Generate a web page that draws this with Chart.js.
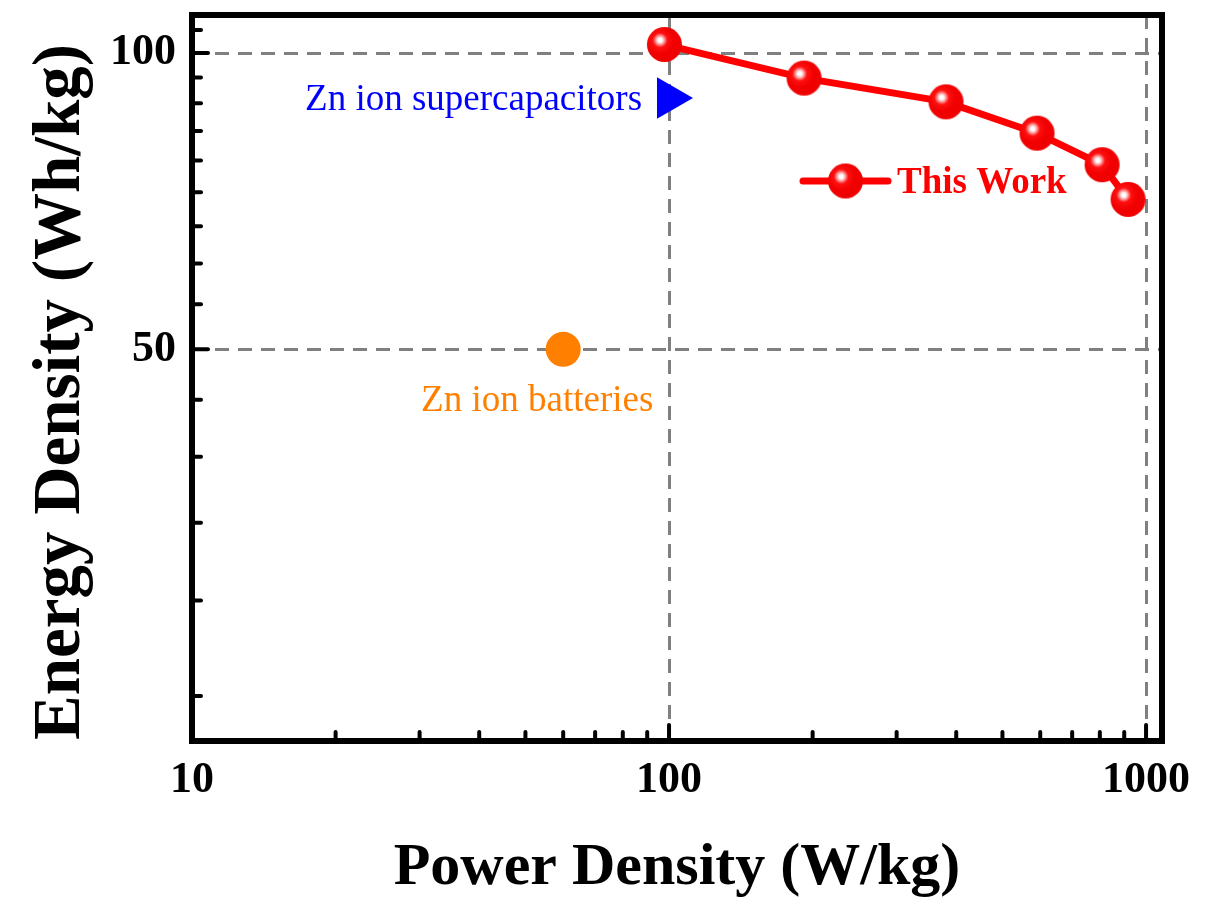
<!DOCTYPE html>
<html>
<head>
<meta charset="utf-8">
<script src="https://cdn.jsdelivr.net/npm/chart.js@4.4.1/dist/chart.umd.min.js"></script>
<style>
  html, body { margin: 0; padding: 0; background: #ffffff; }
  canvas { display: block; }
</style>
</head>
<body>
<canvas id="chart" width="1207" height="908"></canvas>
<script>
// Ragone data: power density (W/kg) vs energy density (Wh/kg)
const powerThisWork  = [97.8, 191.9, 380.8, 590.8, 808.8, 917];
const energyThisWork = [102.0, 94.3, 89.2, 82.9, 77.0, 71.0];

const powerSupercap  = [100];
const energySupercap = [90];

const powerBattery   = [60];
const energyBattery  = [50];

const seriesNames = ['This Work', 'Zn ion supercapacitors', 'Zn ion batteries'];
const xTitle = 'Power Density (W/kg)';
const yTitle = 'Energy Density (Wh/kg)';

// Axis ticks
const xTickValues  = [10, 20, 30, 40, 50, 60, 70, 80, 90, 100, 200, 300, 400, 500, 600, 700, 800, 900, 1000];
const xLabelValues = [10, 100, 1000];
const xTickLabels  = ['10', '100', '1000'];
const yTickValues  = [22.22, 27.78, 33.33, 38.89, 44.44, 50, 55.56, 61.11, 66.67, 72.22, 77.78, 83.33, 88.89, 94.44, 100, 105.56];
const yLabelValues = [50, 100];
const yTickLabels  = ['50', '100'];
const xGridValues  = [100, 1000];
const yGridValues  = [50, 100];

const FONT = '"Liberation Serif", "Times New Roman", serif';
const RED = '#ff0000', BLUE = '#0000ff', ORANGE = '#ff8000';

// Glossy red sphere used as the marker for this work
function makeBall(r) {
  const s = Math.ceil(r * 2 + 2);
  const c = document.createElement('canvas');
  c.width = s; c.height = s;
  const g = c.getContext('2d');
  const cx = s / 2, cy = s / 2;
  const hx = cx - r * 0.25, hy = cy - r * 0.25;
  const grad = g.createRadialGradient(hx, hy, 0, hx, hy, r * 0.8);
  grad.addColorStop(0.00, '#ffffff');
  grad.addColorStop(0.14, '#ffffff');
  grad.addColorStop(0.30, '#ffa0a0');
  grad.addColorStop(0.52, '#ff1010');
  grad.addColorStop(1.00, '#f00000');
  g.fillStyle = grad;
  g.beginPath();
  g.arc(cx, cy, r, 0, Math.PI * 2);
  g.fill();
  return c;
}
const ball = makeBall(17.5);

const toPoints = (xs, ys) => xs.map((v, i) => ({ x: v, y: ys[i] }));

// Frame, inward tick marks, axis title, text labels and the legend entry
const decorations = {
  id: 'decorations',
  afterDatasetsDraw(chart) {
    const { ctx, chartArea: a, scales: { x, y } } = chart;
    ctx.save();
    ctx.strokeStyle = '#000';
    ctx.lineWidth = 4;
    ctx.lineCap = 'round';
    x.ticks.forEach(t => {
      const px = x.getPixelForValue(t.value);
      const len = xLabelValues.includes(t.value) ? 16 : 9;
      ctx.beginPath();
      ctx.moveTo(px, a.bottom);
      ctx.lineTo(px, a.bottom - len);
      ctx.stroke();
    });
    y.ticks.forEach(t => {
      const py = y.getPixelForValue(t.value);
      const len = yLabelValues.includes(t.value) ? 16 : 9;
      ctx.beginPath();
      ctx.moveTo(a.left, py);
      ctx.lineTo(a.left + len, py);
      ctx.stroke();
    });
    ctx.lineCap = 'butt';
    ctx.lineJoin = 'miter';
    ctx.lineWidth = 6;
    ctx.strokeRect(a.left, a.top, a.right - a.left, a.bottom - a.top);
    ctx.restore();
  },
  afterDraw(chart) {
    const { ctx, chartArea: a, scales: { x, y } } = chart;
    ctx.save();

    // vertical axis title
    ctx.save();
    ctx.translate(62, (a.top + a.bottom) / 2 + 14);
    ctx.rotate(-Math.PI / 2);
    ctx.font = 'bold 67px ' + FONT;
    ctx.fillStyle = '#000';
    ctx.textAlign = 'center';
    ctx.textBaseline = 'middle';
    ctx.fillText(yTitle, 0, 0);
    ctx.restore();

    ctx.textBaseline = 'alphabetic';

    // series captions next to their markers
    ctx.font = '37px ' + FONT;
    ctx.fillStyle = BLUE;
    ctx.textAlign = 'right';
    ctx.fillText(seriesNames[1], x.getPixelForValue(powerSupercap[0]) - 27, y.getPixelForValue(energySupercap[0]) + 12);

    ctx.fillStyle = ORANGE;
    ctx.textAlign = 'center';
    ctx.fillText(seriesNames[2], x.getPixelForValue(powerBattery[0]) - 26, y.getPixelForValue(energyBattery[0]) + 62);

    // legend entry for this work
    const ly = a.top + 166;
    const lx0 = a.right - 359, lx1 = a.right - 274;
    ctx.strokeStyle = RED;
    ctx.lineWidth = 7;
    ctx.lineCap = 'round';
    ctx.beginPath();
    ctx.moveTo(lx0, ly);
    ctx.lineTo(lx1, ly);
    ctx.stroke();
    const bx = (lx0 + lx1) / 2;
    ctx.drawImage(ball, bx - ball.width / 2, ly - ball.height / 2);
    ctx.font = 'bold 37px ' + FONT;
    ctx.fillStyle = RED;
    ctx.textAlign = 'left';
    ctx.fillText(seriesNames[0], a.right - 265, ly + 12);
    ctx.restore();
  }
};

new Chart(document.getElementById('chart'), {
  type: 'scatter',
  data: {
    datasets: [
      {
        label: seriesNames[0],
        data: toPoints(powerThisWork, energyThisWork),
        showLine: true,
        borderColor: RED,
        borderWidth: 7,
        pointStyle: ball,
        pointRadius: 17,
        pointHoverRadius: 17,
        order: 1
      },
      {
        label: seriesNames[1],
        data: toPoints(powerSupercap, energySupercap),
        pointStyle: 'triangle',
        rotation: 90,
        pointRadius: 24,
        pointHoverRadius: 24,
        backgroundColor: BLUE,
        borderWidth: 0,
        order: 2
      },
      {
        label: seriesNames[2],
        data: toPoints(powerBattery, energyBattery),
        pointStyle: 'circle',
        pointRadius: 17.5,
        pointHoverRadius: 17.5,
        backgroundColor: ORANGE,
        borderWidth: 0,
        order: 3
      }
    ]
  },
  options: {
    responsive: false,
    animation: false,
    devicePixelRatio: 1,
    layout: { autoPadding: false, padding: { top: 15, right: 45, left: 0, bottom: 0 } },
    plugins: {
      legend: { display: false },
      tooltip: { enabled: false }
    },
    scales: {
      x: {
        type: 'logarithmic',
        bounds: 'data',
        min: 10,
        max: 1080,
        afterFit: s => { s.height = 167; s.paddingLeft = 0; s.paddingRight = 0; },
        afterBuildTicks: s => {
          s.ticks = xTickValues.map(v => ({ value: v, major: xLabelValues.includes(v) }));
        },
        ticks: {
          autoSkip: false,
          maxRotation: 0,
          padding: 13,
          color: '#000',
          font: { family: FONT, size: 44, weight: 'bold' },
          callback: v => {
            const i = xLabelValues.indexOf(v);
            return i >= 0 ? xTickLabels[i] : '';
          }
        },
        grid: {
          drawTicks: false,
          lineWidth: 3,
          color: c => (c.tick && xGridValues.includes(c.tick.value)) ? '#808080' : 'rgba(0,0,0,0)'
        },
        border: { display: false, dash: [14, 9] },
        title: {
          display: true,
          text: xTitle,
          color: '#000',
          font: { family: FONT, size: 60, weight: 'bold' },
          padding: { top: 0, bottom: 4 }
        }
      },
      y: {
        type: 'logarithmic',
        bounds: 'data',
        min: 20,
        max: 109.3,
        afterFit: s => { s.width = 192; s.paddingTop = 0; s.paddingBottom = 0; },
        afterBuildTicks: s => {
          s.ticks = yTickValues.map(v => ({ value: v, major: yLabelValues.includes(v) }));
        },
        ticks: {
          autoSkip: false,
          padding: 16,
          color: '#000',
          font: { family: FONT, size: 44, weight: 'bold' },
          callback: v => {
            const i = yLabelValues.indexOf(v);
            return i >= 0 ? yTickLabels[i] : '';
          }
        },
        grid: {
          drawTicks: false,
          lineWidth: 3,
          color: c => (c.tick && yGridValues.includes(c.tick.value)) ? '#808080' : 'rgba(0,0,0,0)'
        },
        border: { display: false, dash: [14, 9] },
        title: { display: false }
      }
    }
  },
  plugins: [decorations]
});
</script>
</body>
</html>
